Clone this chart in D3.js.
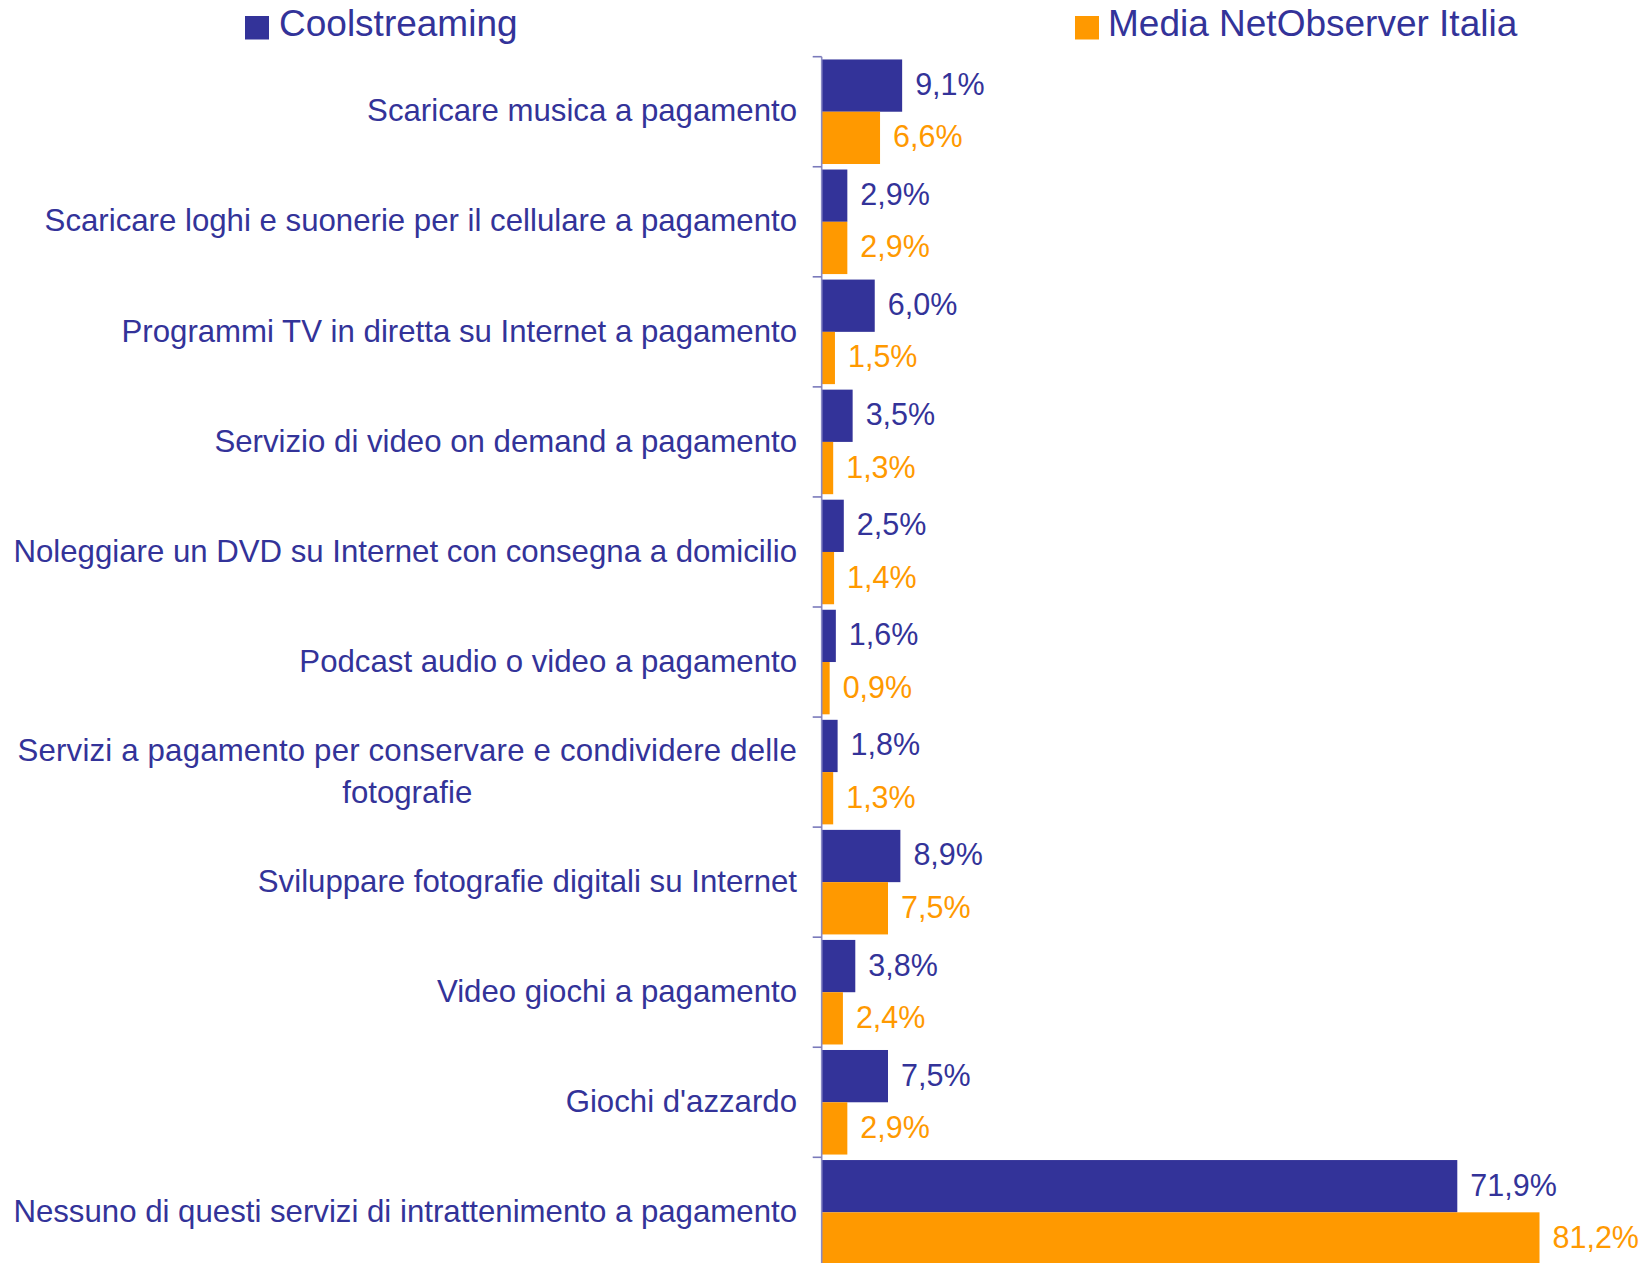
<!DOCTYPE html>
<html>
<head>
<meta charset="utf-8">
<script src="https://cdn.jsdelivr.net/npm/d3@7"></script>
<style>
  html, body { margin: 0; padding: 0; background: #ffffff; }
  svg { display: block; font-family: "Liberation Sans", Arial, sans-serif; }
</style>
</head>
<body>
<svg id="chart" width="1641" height="1263"></svg>
<script>
const categories = [
  "Scaricare musica a pagamento",
  "Scaricare loghi e suonerie per il cellulare a pagamento",
  "Programmi TV in diretta su Internet a pagamento",
  "Servizio di video on demand a pagamento",
  "Noleggiare un DVD su Internet con consegna a domicilio",
  "Podcast audio o video a pagamento",
  "Servizi a pagamento per conservare e condividere delle\nfotografie",
  "Sviluppare fotografie digitali su Internet",
  "Video giochi a pagamento",
  "Giochi d'azzardo",
  "Nessuno di questi servizi di intrattenimento a pagamento"
];
const seriesNames = ["Coolstreaming", "Media NetObserver Italia"];
const coolstreaming = [9.1, 2.9, 6.0, 3.5, 2.5, 1.6, 1.8, 8.9, 3.8, 7.5, 71.9];
const netObserver   = [6.6, 2.9, 1.5, 1.3, 1.4, 0.9, 1.3, 7.5, 2.4, 2.9, 81.2];
const seriesColors = ["#333399", "#FF9900"];

(function () {
const svg = d3.select("#chart");
const W = 1641, H = 1263;
const axisX = 821.7;
const plotTop = 56.7, step = 110.06;

const x = d3.scaleLinear().domain([0, 90]).range([axisX, axisX + 90 * 8.84]);
const y = d3.scaleBand()
  .domain(d3.range(categories.length))
  .range([plotTop, plotTop + step * categories.length])
  .paddingInner(0.05)
  .paddingOuter(0.025);
const sub = d3.scaleBand().domain([0, 1]).range([0, y.bandwidth()]);

const fmt = v => d3.format(".1f")(v).replace(".", ",") + "%";
const series = [coolstreaming, netObserver];

series.forEach((vals, si) => {
  svg.append("g").selectAll("rect").data(vals).join("rect")
    .attr("x", x(0))
    .attr("y", (d, i) => y(i) + sub(si))
    .attr("width", d => x(d) - x(0))
    .attr("height", sub.bandwidth())
    .attr("fill", seriesColors[si]);
  svg.append("g").selectAll("text").data(vals).join("text")
    .attr("x", d => x(d) + 13)
    .attr("y", (d, i) => y(i) + sub(si) + sub.bandwidth() / 2)
    .attr("dy", "0.31em")
    .attr("font-size", 30.5)
    .attr("fill", seriesColors[si])
    .text(d => fmt(d));
});

svg.append("line")
  .attr("x1", axisX).attr("x2", axisX)
  .attr("y1", plotTop).attr("y2", H)
  .attr("stroke", "#8a8ac4").attr("stroke-width", 1.6);
const tickYs = d3.range(categories.length + 1).map(i => plotTop + i * step);
svg.append("g").selectAll("line").data(tickYs).join("line")
  .attr("x1", axisX - 9).attr("x2", axisX)
  .attr("y1", d => d).attr("y2", d => d)
  .attr("stroke", "#7a7abb").attr("stroke-width", 1.6);

const labelRight = 797;
const fs = 31.2;
categories.forEach((c, i) => {
  const lines = c.split("\n");
  const cy = y(i) + y.bandwidth() / 2;
  if (lines.length === 1) {
    svg.append("text")
      .attr("x", labelRight).attr("y", cy).attr("dy", "0.31em")
      .attr("text-anchor", "end").attr("font-size", fs).attr("fill", "#333399")
      .text(c);
  } else {
    const lh = 42;
    const t1 = svg.append("text")
      .attr("x", labelRight).attr("y", cy - lh / 2).attr("dy", "0.31em")
      .attr("text-anchor", "end").attr("font-size", fs).attr("fill", "#333399")
      .attr("letter-spacing", 0.18)
      .text(lines[0]);
    const w1 = t1.node().getComputedTextLength();
    svg.append("text")
      .attr("x", labelRight - w1 / 2).attr("y", cy + lh / 2).attr("dy", "0.31em")
      .attr("text-anchor", "middle").attr("font-size", fs).attr("fill", "#333399")
      .text(lines[1]);
  }
});

const legendPos = [{sx: 245, tx: 279}, {sx: 1075, tx: 1108}];
seriesNames.forEach((n, si) => {
  svg.append("rect")
    .attr("x", legendPos[si].sx).attr("y", 16)
    .attr("width", 24).attr("height", 23.5)
    .attr("fill", seriesColors[si]);
  svg.append("text")
    .attr("x", legendPos[si].tx).attr("y", 36)
    .attr("font-size", 37).attr("fill", "#333399")
    .text(n);
});
})();
</script>
</body>
</html>
